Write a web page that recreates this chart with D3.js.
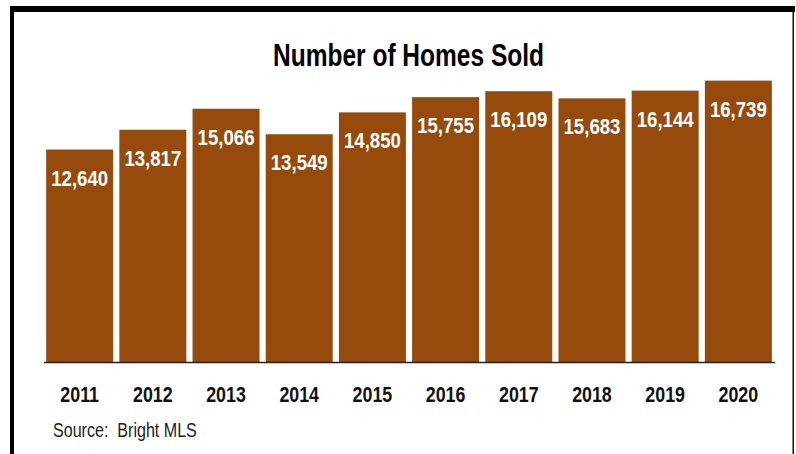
<!DOCTYPE html>
<html>
<head>
<meta charset="utf-8">
<script src="https://cdn.jsdelivr.net/npm/d3@7"></script>
<style>
  html, body { margin: 0; padding: 0; background: #fff; }
  svg { display: block; }
  text { font-family: "Liberation Sans", Arial, sans-serif; }
</style>
</head>
<body>
<svg id="chart" width="796" height="454"></svg>
<script>
// Annual home sales, 2011–2020
const years = ["2011", "2012", "2013", "2014", "2015", "2016", "2017", "2018", "2019", "2020"];
const homesSold = [12640, 13817, 15066, 13549, 14850, 15755, 16109, 15683, 16144, 16739];
const titleText = "Number of Homes Sold";
const sourceText = "Source:  Bright MLS";

const W = 796, H = 454;
const svg = d3.select("#chart");
const barColor = "#964a0b";
const baseY = 362;
const squeeze = 0.81; // horizontal condensing for a narrow-face look

// Frame: heavy top and left edges, thin right edge
svg.append("rect").attr("x", 10).attr("y", 6).attr("width", 785).attr("height", 6).attr("fill", "#000");
svg.append("rect").attr("x", 10).attr("y", 6).attr("width", 4).attr("height", H - 6).attr("fill", "#000");
svg.append("rect").attr("x", 792.5).attr("y", 6).attr("width", 1.5).attr("height", H - 6).attr("fill", "#111");

// Title
svg.append("text")
  .attr("x", 408.5).attr("y", 66)
  .attr("text-anchor", "middle")
  .attr("font-size", 32).attr("font-weight", "bold")
  .attr("textLength", 271).attr("lengthAdjust", "spacingAndGlyphs")
  .attr("fill", "#000")
  .text(titleText);

const x = d3.scaleBand()
  .domain(years)
  .range([42.5, 775.5])
  .paddingInner(0.085)
  .paddingOuter(0.05);

const y = d3.scaleLinear()
  .domain([0, 20000])
  .range([baseY, baseY - 0.01681 * 20000]);

const data = years.map((yr, i) => ({ year: yr, value: homesSold[i] }));

// Bars
svg.append("g").selectAll("rect")
  .data(data)
  .join("rect")
  .attr("x", d => x(d.year))
  .attr("y", d => y(d.value))
  .attr("width", x.bandwidth())
  .attr("height", d => y(0) - y(d.value))
  .attr("fill", barColor);

// Value labels inside the top of each bar
const fmt = d3.format(",");
svg.append("g").selectAll("text")
  .data(data)
  .join("text")
  .attr("transform", d => `translate(${x(d.year) + x.bandwidth() / 2},${y(d.value) + 36}) scale(${squeeze},1)`)
  .attr("text-anchor", "middle")
  .attr("font-size", 23).attr("font-weight", "bold")
  .attr("fill", "#fff")
  .text(d => fmt(d.value));

// Baseline axis with year labels
const xAxis = d3.axisBottom(x).tickSize(0).tickPadding(0);
const axisG = svg.append("g")
  .attr("transform", `translate(0,${baseY})`)
  .call(xAxis)
  .attr("font-family", null).attr("font-size", null);
axisG.select(".domain")
  .attr("d", "M44,0.5H775")
  .attr("stroke", "#222").attr("stroke-width", 1.5);
axisG.selectAll(".tick text")
  .attr("y", 0).attr("dy", 0)
  .attr("transform", `translate(0,40) scale(${squeeze},1)`)
  .attr("font-size", 22).attr("font-weight", "bold")
  .attr("fill", "#111");

// Source note
svg.append("text")
  .attr("transform", `translate(53,437) scale(0.825,1)`)
  .attr("font-size", 19.5)
  .attr("fill", "#222")
  .attr("xml:space", "preserve")
  .style("white-space", "pre")
  .text(sourceText);
</script>
</body>
</html>
